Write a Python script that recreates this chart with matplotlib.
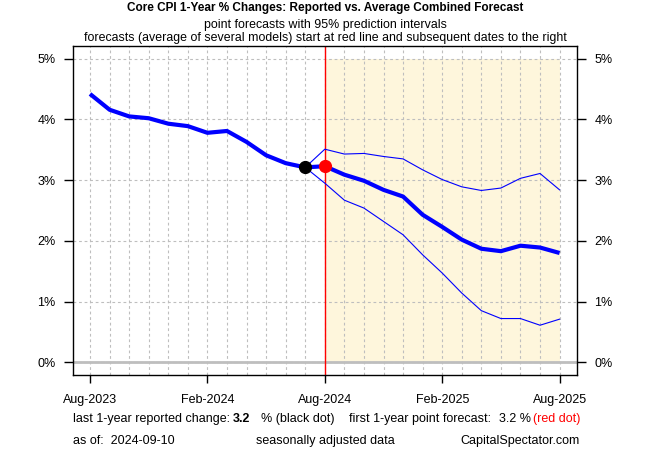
import numpy as np
import pandas as pd
import matplotlib
matplotlib.use('Agg')
import matplotlib.pyplot as plt

plt.rcParams['font.family'] = ['Liberation Sans', 'DejaVu Sans']

# monthly axis, Aug-2023 .. Aug-2025
months = pd.date_range('2023-08-01', periods=25, freq='MS')

# reported core CPI 1-yr % change (Aug-2023 .. Jul-2024)
reported = [4.42, 4.16, 4.05, 4.02, 3.93, 3.89, 3.78, 3.81, 3.63, 3.41, 3.28, 3.21]

# average combined forecast (Aug-2024 .. Aug-2025) with 95% intervals
fc_mid = [3.23, 3.09, 2.99, 2.84, 2.73, 2.43, 2.23, 2.02, 1.87, 1.83, 1.92, 1.89, 1.80]
fc_hi  = [3.51, 3.43, 3.44, 3.39, 3.35, 3.17, 3.01, 2.89, 2.83, 2.87, 3.03, 3.11, 2.84]
fc_lo  = [2.95, 2.67, 2.54, 2.32, 2.10, 1.77, 1.47, 1.14, 0.85, 0.72, 0.72, 0.61, 0.71]

last_reported = 3.2
first_forecast = 3.2
as_of = '2024-09-10'

x = np.arange(len(months))
n_hist = len(reported)
x_fc = x[n_hist:]
x_band = x[n_hist - 1:]

fig = plt.figure(figsize=(6.5, 4.5), dpi=100)
ax = fig.add_axes([73/650, 1 - 375/450, 504/650, 329/450])

# forecast region
ax.fill_between(x_fc, 0, 5, color='#FEF6DC', zorder=0, linewidth=0)

# grid
blue = '#0000FF'
for xi in x:
    ax.axvline(xi, color='#BEBEBE', lw=0.8, ls=(0, (2.5, 2.5)), zorder=1)
for yi in range(6):
    ax.axhline(yi, color='#BEBEBE', lw=0.8, ls=(0, (2.5, 2.5)), zorder=1)
ax.axhline(0, color='#BEBEBE', lw=2, zorder=1.5)

ax.axvline(x_fc[0], color='red', lw=1, zorder=2)

ax.plot(x_band, [reported[-1]] + fc_hi, color=blue, lw=0.8, zorder=3)
ax.plot(x_band, [reported[-1]] + fc_lo, color=blue, lw=0.8, zorder=3)
ax.plot(x, reported + fc_mid, color=blue, lw=3, zorder=4, solid_capstyle='butt')
ax.plot(x[n_hist - 1], reported[-1], 'o', color='black', ms=8.5, zorder=5)
ax.plot(x_fc[0], fc_mid[0], 'o', color='red', ms=8.5, zorder=5)

ax.set_xlim(-0.87, 24.89)
ax.set_ylim(-0.21, 5.21)

ax.set_yticks(range(6))
ax.set_yticklabels([f'{v}%' for v in range(6)])
ax.tick_params(axis='y', which='major', length=6.5, width=1, labelsize=9,
               pad=6, right=True, labelright=True)
ax.set_xticks(x[::6])
ax.set_xticklabels(months[::6].strftime('%b-%Y'))
ax.tick_params(axis='x', length=5.5, width=1, labelsize=9, pad=8)
for s in ax.spines.values():
    s.set_linewidth(1)

# titles
fig.text(0.5, 1 - 8.5/450, 'Core CPI 1-Year % Changes: Reported vs. Average Combined Forecast',
         ha='center', va='center', fontsize=8.5, fontweight='bold')
fig.text(0.5, 1 - 25/450, 'point forecasts with 95% prediction intervals',
         ha='center', va='center', fontsize=8.9)
fig.text(0.5, 1 - 38/450,
         'forecasts (average of several models) start at red line and subsequent dates to the right',
         ha='center', va='center', fontsize=8.9)

# footer
y1 = 1 - 419/450
y2 = 1 - 441/450
fig.text(73/650, y1, 'last 1-year reported change:', ha='left', va='center', fontsize=9)
fig.text(233/650, y1, f'{last_reported}', ha='left', va='center', fontsize=9, fontweight='bold')
fig.text(261/650, y1, '% (black dot)', ha='left', va='center', fontsize=9)
fig.text(349/650, y1, 'first 1-year point forecast:', ha='left', va='center', fontsize=9)
fig.text(499/650, y1, f'{first_forecast} %', ha='left', va='center', fontsize=9)
fig.text(580/650, y1, '(red dot)', ha='right', va='center', fontsize=9, color='red')
fig.text(73/650, y2, f'as of:  {as_of}', ha='left', va='center', fontsize=9)
fig.text(256/650, y2, 'seasonally adjusted data', ha='left', va='center', fontsize=9)
fig.text(580/650, y2, 'CapitalSpectator.com', ha='right', va='center', fontsize=9)

fig.savefig('out.png', dpi=100)
